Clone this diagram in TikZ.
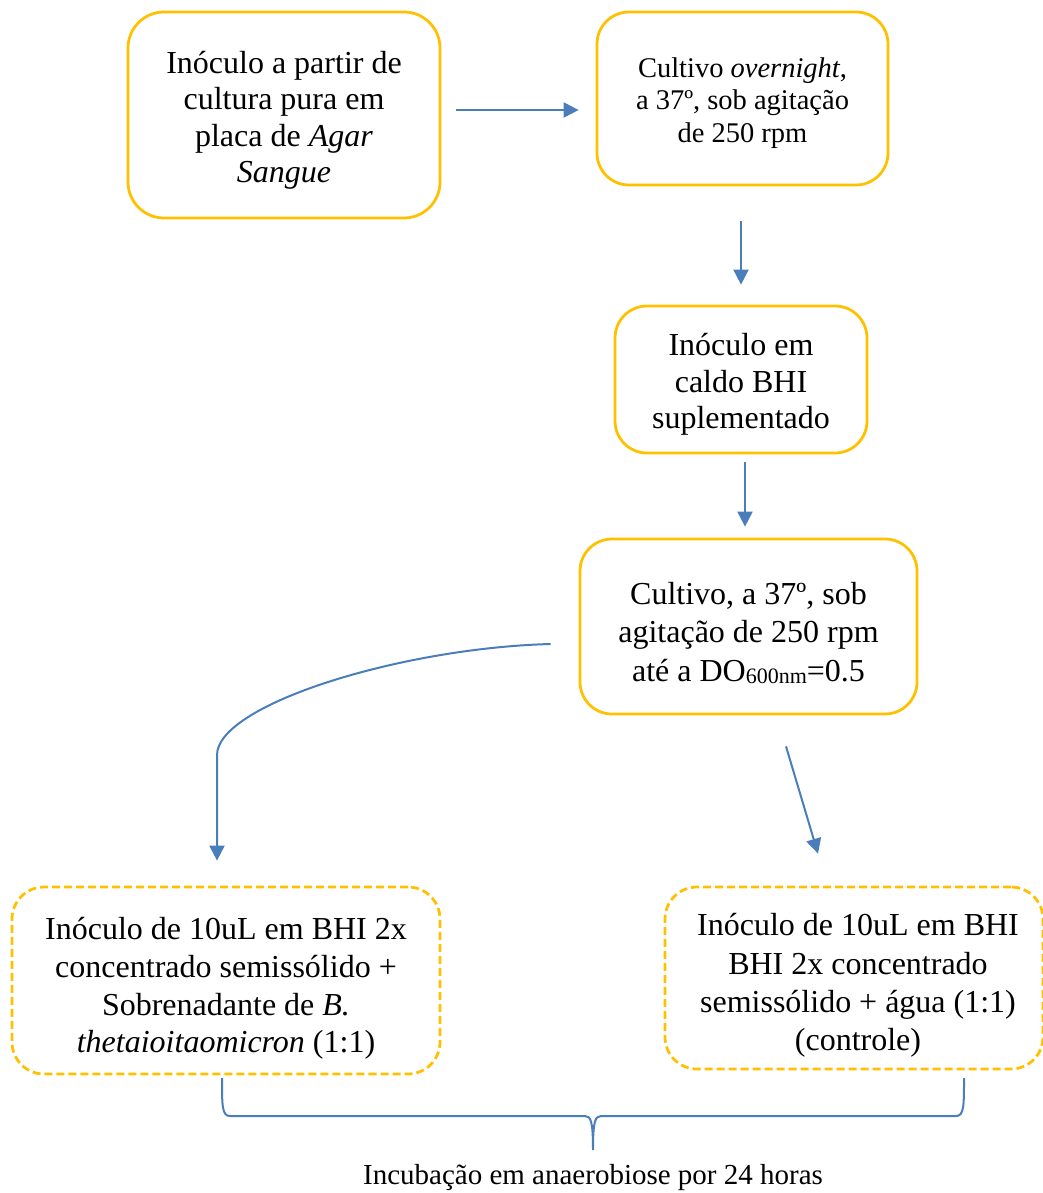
\documentclass[tikz,border=0pt]{standalone}
\usepackage{fontspec}
\setmainfont{Liberation Serif}
\usetikzlibrary{arrows.meta,calc}
\definecolor{boxyellow}{HTML}{FFC000}
\definecolor{arrblue}{HTML}{4A7EBB}
\tikzset{
  solidbox/.style={draw=boxyellow, line width=2.75pt, rounded corners=32pt, inner sep=0pt},
  dashbox/.style={solidbox, dash pattern=on 8pt off 4pt},
  boxtext/.style={align=center, inner sep=0pt},
  arr/.style={draw=arrblue, line width=2pt, -{Triangle[length=15pt,width=15pt]}},
  bracestyle/.style={draw=arrblue, line width=2pt},
}
\begin{document}
\begin{tikzpicture}[x=1pt,y=-1pt]
\useasboundingbox (0,0) rectangle (1042,1193);

\node[solidbox, rounded corners=36pt, minimum width=312pt, minimum height=206pt] (b1) at (284,115) {};
\node[boxtext, font=\fontsize{32}{36.5}\selectfont] (t1) at ($(b1.center)+(0,5.5)$)
  {Inóculo a partir de\\cultura pura em\\placa de \textit{Agar}\\\textit{Sangue}};

\node[solidbox, minimum width=291pt, minimum height=173pt] (b2) at (742.5,98.5) {};
\node[boxtext, font=\fontsize{28.5}{32.5}\selectfont] (t2) at ($(b2.center)+(0,4.5)$)
  {Cultivo \textit{overnight},\\a 37º, sob agitação\\de 250 rpm};

\node[solidbox, minimum width=252pt, minimum height=147pt] (b3) at (741,379.5) {};
\node[boxtext, font=\fontsize{32}{36.5}\selectfont] (t3) at ($(b3.center)+(0,5)$)
  {Inóculo em\\caldo BHI\\suplementado};

\node[solidbox, minimum width=337pt, minimum height=175pt] (b4) at (748.5,626.5) {};
\node[boxtext, font=\fontsize{32}{38.5}\selectfont] (t4) at ($(b4.center)+(0,6)$)
  {Cultivo, a 37º, sob\\agitação de 250 rpm\\até a DO\raisebox{-2pt}{\fontsize{22}{22}\selectfont 600nm}=0.5};

\node[dashbox, minimum width=428pt, minimum height=187pt] (b5) at (226,980.5) {};
\node[boxtext, font=\fontsize{32}{37.7}\selectfont] (t5) at ($(b5.center)+(0,8)$)
  {Inóculo de 10uL em BHI 2x\\concentrado semissólido +\\Sobrenadante de \textit{B.}\\\textit{thetaioitaomicron} (1:1)};

\node[dashbox, minimum width=378pt, minimum height=182pt] (b6) at (854,978) {};
\node[boxtext, font=\fontsize{32}{38.3}\selectfont] (t6) at ($(b6.center)+(4,7.5)$)
  {Inóculo de 10uL em BHI\\BHI 2x concentrado\\semissólido + água (1:1)\\(controle)};

\draw[arr] ($(b1.east)+(15,-5)$) -- ($(b2.west)+(-17,11.5)$);
\draw[arr] ($(b2.south)+(-1.5,35)$) -- ($(b3.north)+(0,-20)$);
\draw[arr] ($(b3.south)+(4,8)$) -- ($(b4.north)+(-3.5,-11)$);
\draw[arr] ($(b4.west)+(-28,17.5)$) .. controls (400,648) and (217,705) .. (217,755) -- ($(b5.north)+(-9,-25)$);
\draw[arr] ($(b4.south)+(37.5,31)$) -- ($(b6.north)+(-36,-32)$);

\coordinate (bl) at (222,1078);
\coordinate (br) at (964,1078);
\coordinate (bt) at (593,1150);
\draw[bracestyle] (bl) .. controls (222,1106) and (222,1116) .. (230,1116) -- (585,1116)
  .. controls (591,1116) and (593,1122) .. (bt)
  .. controls (593,1122) and (595,1116) .. (601,1116) -- (956,1116)
  .. controls (964,1116) and (964,1106) .. (br);

\node[font=\fontsize{29}{32}\selectfont, inner sep=0pt] (lbl) at (593,1178) {Incubação em anaerobiose por 24 horas};
\end{tikzpicture}
\end{document}
